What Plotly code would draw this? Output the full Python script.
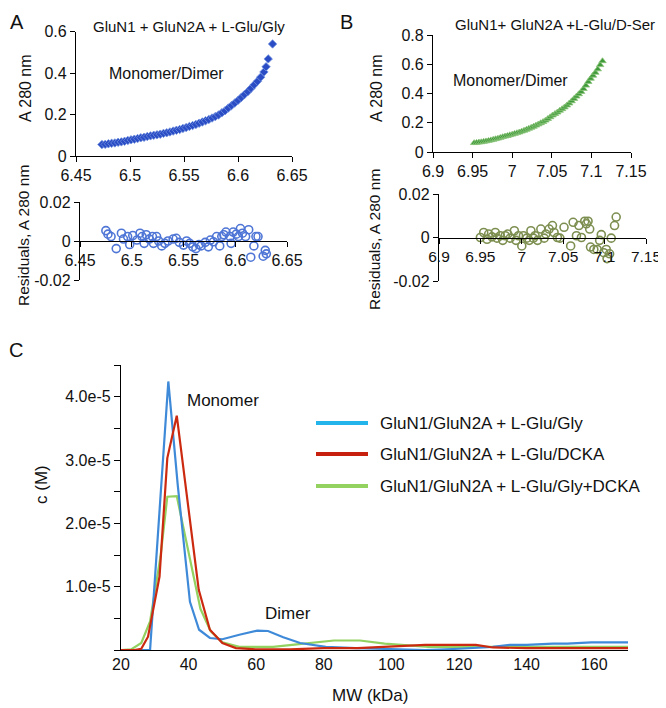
import plotly.graph_objects as go

# The page body adds an 8px margin, so the figure is sized to the remaining
# viewport and all reference pixel positions are offset by it.
PAGE_W, PAGE_H = 666, 708
OFF = 8
W, H = PAGE_W - OFF, PAGE_H - OFF
FONT = "Liberation Sans, Arial, sans-serif"

# ---------------- Panel A data ----------------
radius_A = [6.474, 6.477, 6.480, 6.483, 6.486, 6.489, 6.492, 6.495, 6.498, 6.501,
            6.504, 6.507, 6.510, 6.513, 6.516, 6.519, 6.522, 6.525, 6.528, 6.531,
            6.534, 6.537, 6.540, 6.543, 6.546, 6.549, 6.552, 6.555, 6.558, 6.561,
            6.564, 6.567, 6.570, 6.573, 6.576, 6.579, 6.582, 6.585, 6.588, 6.591,
            6.594, 6.597, 6.600, 6.603, 6.606, 6.609, 6.612, 6.615, 6.618, 6.621,
            6.624, 6.626, 6.628, 6.632]
abs_A = [0.055, 0.056, 0.059, 0.061, 0.063, 0.066, 0.068, 0.071, 0.075, 0.078,
         0.081, 0.084, 0.088, 0.090, 0.094, 0.097, 0.100, 0.102, 0.105, 0.109,
         0.112, 0.116, 0.120, 0.124, 0.128, 0.133, 0.137, 0.142, 0.147, 0.152,
         0.158, 0.164, 0.170, 0.176, 0.183, 0.190, 0.198, 0.208, 0.218, 0.231,
         0.243, 0.255, 0.268, 0.282, 0.296, 0.310, 0.326, 0.343, 0.360, 0.380,
         0.405, 0.430, 0.468, 0.540]

res_x_A = [6.475, 6.477, 6.480, 6.485, 6.490, 6.492, 6.496, 6.498, 6.501, 6.505,
           6.508, 6.510, 6.512, 6.514, 6.517, 6.520, 6.521, 6.524, 6.526, 6.529,
           6.532, 6.535, 6.540, 6.543, 6.546, 6.550, 6.553, 6.556, 6.559, 6.562,
           6.565, 6.567, 6.571, 6.574, 6.576, 6.579, 6.582, 6.585, 6.587, 6.589,
           6.591, 6.595, 6.596, 6.598, 6.601, 6.603, 6.605, 6.607, 6.610, 6.613,
           6.615, 6.618, 6.620, 6.622, 6.627, 6.629, 6.630]
res_y_A = [0.0053, 0.0035, 0.0023, -0.0039, 0.0040, 0.0010, 0.0023, -0.0018, 0.0028, 0.0005,
           0.0040, 0.0023, -0.0012, 0.0032, 0.0010, 0.0023, -0.0012, 0.0023, 0.0000, -0.0025,
           -0.0012, 0.0000, 0.0010, 0.0014, -0.0007, -0.0021, 0.0000, -0.0012, -0.0030, -0.0039,
           -0.0018, -0.0025, -0.0007, -0.0030, 0.0005, -0.0004, 0.0023, -0.0025, 0.0023, 0.0032,
           0.0046, 0.0023, -0.0012, 0.0046, 0.0035, 0.0023, 0.0064, 0.0040, 0.0023, 0.0058,
           -0.0083, -0.0025, 0.0023, 0.0023, -0.0078, -0.0048, -0.0066]

# ---------------- Panel B data ----------------
radius_B = [6.952, 6.955, 6.958, 6.961, 6.964, 6.967, 6.970, 6.973, 6.976, 6.979,
            6.982, 6.985, 6.988, 6.991, 6.994, 6.997, 7.000, 7.003, 7.006, 7.009,
            7.012, 7.015, 7.018, 7.021, 7.024, 7.027, 7.030, 7.033, 7.036, 7.039,
            7.042, 7.045, 7.048, 7.051, 7.054, 7.057, 7.060, 7.063, 7.066, 7.069,
            7.072, 7.075, 7.078, 7.081, 7.084, 7.087, 7.090, 7.093, 7.096, 7.099,
            7.102, 7.105, 7.108, 7.111, 7.114]
abs_B = [0.062, 0.064, 0.066, 0.068, 0.071, 0.074, 0.077, 0.081, 0.085, 0.089,
         0.093, 0.098, 0.103, 0.107, 0.111, 0.116, 0.120, 0.125, 0.130, 0.135,
         0.141, 0.147, 0.153, 0.160, 0.167, 0.174, 0.182, 0.190, 0.198, 0.206,
         0.216, 0.227, 0.239, 0.251, 0.261, 0.271, 0.283, 0.294, 0.306, 0.319,
         0.333, 0.348, 0.364, 0.380, 0.396, 0.412, 0.432, 0.455, 0.480, 0.502,
         0.523, 0.543, 0.566, 0.595, 0.622]

res_x_B = [6.950, 6.954, 6.958, 6.960, 6.964, 6.968, 6.970, 6.974, 6.977, 6.980,
           6.983, 6.986, 6.991, 6.993, 6.996, 7.000, 7.002, 7.006, 7.009, 7.011,
           7.014, 7.016, 7.019, 7.023, 7.027, 7.029, 7.033, 7.037, 7.039, 7.043,
           7.046, 7.051, 7.059, 7.062, 7.066, 7.069, 7.072, 7.076, 7.078, 7.080,
           7.082, 7.083, 7.087, 7.091, 7.094, 7.096, 7.099, 7.102, 7.103, 7.106,
           7.108, 7.112, 7.114]
res_y_B = [0.0000, 0.0023, -0.0008, 0.0016, 0.0003, 0.0023, -0.0003, 0.0008, -0.0013, 0.0008,
           0.0016, -0.0003, 0.0031, -0.0013, 0.0008, -0.0039, 0.0008, -0.0003, -0.0013, 0.0031,
           -0.0003, 0.0008, -0.0013, 0.0039, -0.0003, 0.0016, 0.0039, 0.0055, 0.0023, 0.0000,
           -0.0003, 0.0047, -0.0039, 0.0070, 0.0008, 0.0055, 0.0000, 0.0075, 0.0063, 0.0075,
           0.0039, -0.0044, -0.0055, -0.0055, -0.0013, 0.0013, -0.0070, -0.0055, -0.0097, -0.0075,
           -0.0003, 0.0055, 0.0094]

# ---------------- Panel C data ----------------
series_names = ["GluN1/GluN2A + L-Glu/Gly", "GluN1/GluN2A + L-Glu/DCKA",
                "GluN1/GluN2A + L-Glu/Gly+DCKA"]
mw_gly = [20, 24, 26, 28.6, 34.0, 36.8, 40.4, 43.1, 46.3, 50.0, 55, 60.3, 63.5, 68, 73,
          80.6, 89.4, 100, 110, 120, 130, 135, 140, 147.8, 152, 159.2, 170]
c_gly = [0, 0, 0, 0, 4.24e-5, 2.6e-5, 0.76e-5, 0.32e-5, 0.19e-5, 0.17e-5, 0.24e-5,
         0.305e-5, 0.30e-5, 0.2e-5, 0.11e-5, 0.05e-5, 0.03e-5, 0.01e-5, 0.0, 0.02e-5,
         0.05e-5, 0.08e-5, 0.08e-5, 0.10e-5, 0.10e-5, 0.12e-5, 0.12e-5]
mw_dcka = [20, 24, 26, 28, 31.4, 33.7, 36.5, 43.0, 46.3, 50.0, 54, 60, 70, 80, 90, 100,
           110, 125, 130, 140, 170]
c_dcka = [0, 0, 0.02e-5, 0.21e-5, 1.16e-5, 3.03e-5, 3.70e-5, 0.95e-5, 0.32e-5, 0.11e-5,
          0.03e-5, 0.01e-5, 0.01e-5, 0.03e-5, 0.03e-5, 0.06e-5, 0.08e-5, 0.08e-5, 0.04e-5,
          0.03e-5, 0.03e-5]
mw_both = [20, 23, 26, 28.6, 31.7, 33.7, 36.5, 40, 43.5, 46.5, 50, 55, 65, 72, 83, 90.7,
           98, 111, 130, 170]
c_both = [0, 0.01e-5, 0.11e-5, 0.45e-5, 1.48e-5, 2.42e-5, 2.43e-5, 1.55e-5, 0.65e-5,
          0.30e-5, 0.12e-5, 0.05e-5, 0.05e-5, 0.09e-5, 0.15e-5, 0.15e-5, 0.10e-5, 0.05e-5,
          0.05e-5, 0.05e-5]

# tick labels
ticks_A_x = [6.45, 6.5, 6.55, 6.6, 6.65]
ticks_A_x_text = ["6.45", "6.5", "6.55", "6.6", "6.65"]
ticks_A_y = [0, 0.2, 0.4, 0.6]
ticks_A_y_text = ["0", "0.2", "0.4", "0.6"]
ticks_B_x = [6.9, 6.95, 7.0, 7.05, 7.1, 7.15]
ticks_B_x_text = ["6.9", "6.95", "7", "7.05", "7.1", "7.15"]
ticks_B_y = [0, 0.2, 0.4, 0.6, 0.8]
ticks_B_y_text = ["0", "0.2", "0.4", "0.6", "0.8"]
ticks_res = [-0.02, 0, 0.02]
ticks_res_text = ["-0.02", "0", "0.02"]
ticks_C_x = [20, 40, 60, 80, 100, 120, 140, 160]
ticks_C_x_text = ["20", "40", "60", "80", "100", "120", "140", "160"]
ticks_C_y = [0, 0.5e-5, 1.0e-5, 1.5e-5, 2.0e-5, 2.5e-5, 3.0e-5, 3.5e-5, 4.0e-5, 4.5e-5]
ticks_C_y_text = ["", "", "1.0e-5", "", "2.0e-5", "", "3.0e-5", "", "4.0e-5", ""]

col_line = ["#3f8ad8", "#cc2a10", "#93d160"]
col_legend = ["#22b4ea", "#c8200e", "#93d160"]


def px(x):
    return (x - OFF) / W


def py(y):
    return 1 - (y - OFF) / H


fig = go.Figure()

fig.add_trace(go.Scatter(x=radius_A, y=abs_A, mode="markers", xaxis="x", yaxis="y",
                         marker=dict(symbol="diamond", size=6.5, color="#2a4cc4",
                                     line=dict(width=0.8, color="#7393e0")),
                         showlegend=False))
fig.add_trace(go.Scatter(x=res_x_A, y=res_y_A, mode="markers", xaxis="x2", yaxis="y2",
                         marker=dict(symbol="circle-open", size=8, color="#4f76d6",
                                     line=dict(width=1.6)),
                         showlegend=False))
fig.add_trace(go.Scatter(x=radius_B, y=abs_B, mode="markers", xaxis="x3", yaxis="y3",
                         marker=dict(symbol="triangle-up", size=6.5, color="#3f9a3a",
                                     line=dict(width=0.8, color="#8cc47a")),
                         showlegend=False))
fig.add_trace(go.Scatter(x=res_x_B, y=res_y_B, mode="markers", xaxis="x4", yaxis="y4",
                         marker=dict(symbol="circle-open", size=8, color="#7d8f50",
                                     line=dict(width=1.6)),
                         showlegend=False))

for mw, c, col, name in [(mw_both, c_both, col_line[2], series_names[2]),
                         (mw_gly, c_gly, col_line[0], series_names[0]),
                         (mw_dcka, c_dcka, col_line[1], series_names[1])]:
    fig.add_trace(go.Scatter(x=mw, y=c, mode="lines", xaxis="x5", yaxis="y5", name=name,
                             line=dict(color=col, width=2.2), showlegend=False))

axis_common = dict(showline=True, linecolor="black", linewidth=1.3, showgrid=False,
                   zeroline=False, ticks="outside", ticklen=5, tickcolor="black",
                   tickwidth=1.3, tickfont=dict(family=FONT, size=16, color="#111"),
                   tickmode="array", automargin=False)

layout = dict(
    width=W, height=H, margin=dict(l=0, r=0, t=0, b=0, pad=0, autoexpand=False),
    paper_bgcolor="white", plot_bgcolor="white", showlegend=False,
    font=dict(family=FONT, color="#111"),
    xaxis=dict(axis_common, domain=[px(76), px(292)], range=[6.45, 6.65], anchor="y",
               tickvals=ticks_A_x, ticktext=ticks_A_x_text),
    yaxis=dict(axis_common, domain=[py(156), py(31.5)], range=[0, 0.6], anchor="x",
               tickvals=ticks_A_y, ticktext=ticks_A_y_text),
    xaxis2=dict(axis_common, domain=[px(80), px(287)], range=[6.45, 6.65], anchor="free",
                position=py(241), tickvals=ticks_A_x, ticktext=ticks_A_x_text),
    yaxis2=dict(axis_common, domain=[py(280), py(202)], range=[-0.02, 0.02], anchor="x2",
                tickvals=ticks_res, ticktext=ticks_res_text),
    xaxis3=dict(axis_common, domain=[px(433), px(631)], range=[6.9, 7.15], anchor="y3",
                tickvals=ticks_B_x, ticktext=ticks_B_x_text),
    yaxis3=dict(axis_common, domain=[py(152), py(35)], range=[0, 0.8], anchor="x3",
                tickvals=ticks_B_y, ticktext=ticks_B_y_text),
    xaxis4=dict(axis_common, domain=[px(439), px(646)], range=[6.9, 7.15], anchor="free",
                position=py(237.5), tickvals=ticks_B_x, ticktext=ticks_B_x_text,
                tickfont=dict(family=FONT, size=15.5, color="#111")),
    yaxis4=dict(axis_common, domain=[py(281), py(194)], range=[-0.02, 0.02], anchor="x4",
                tickvals=ticks_res, ticktext=ticks_res_text),
    xaxis5=dict(axis_common, domain=[px(121), px(628)], range=[20, 170], anchor="y5",
                ticks="", tickvals=ticks_C_x, ticktext=ticks_C_x_text),
    yaxis5=dict(axis_common, domain=[py(650), py(365)], range=[0, 4.5e-5], anchor="x5",
                tickvals=ticks_C_y, ticktext=ticks_C_y_text, ticklen=6),
)
fig.update_layout(**layout)


def note(text, x, y, size=16, angle=0, xanchor="center", color="#111"):
    fig.add_annotation(text=text, x=px(x), y=py(y), xref="paper", yref="paper",
                       showarrow=False, xanchor=xanchor, yanchor="middle", textangle=angle,
                       font=dict(family=FONT, size=size, color=color))


note("A", 17, 22, size=20)
note("B", 346, 22, size=20)
note("C", 16, 350, size=20)
note("GluN1 + GluN2A + L-Glu/Gly", 189, 27, size=15)
note("GluN1+ GluN2A +L-Glu/D-Ser", 555, 25, size=15)
note("Monomer/Dimer", 166, 73, size=16)
note("Monomer/Dimer", 511, 80, size=16)
note("A 280 nm", 25, 88, size=16, angle=-90)
note("A 280 nm", 376, 88, size=16, angle=-90)
note("Residuals, A 280 nm", 23, 236, size=15.5, angle=-90)
note("Residuals, A 280 nm", 375, 240, size=15.5, angle=-90)
note("Monomer", 223, 400, size=17)
note("Dimer", 288, 613, size=17)
note("c (M)", 42, 485, size=17, angle=-90)
note("MW (kDa)", 370, 695, size=17)

legend_y = [423, 454, 486]
for name, col, yy in zip(series_names, col_legend, legend_y):
    fig.add_shape(type="line", xref="paper", yref="paper", x0=px(316), x1=px(368),
                  y0=py(yy), y1=py(yy), line=dict(color=col, width=4))
    note(name, 378, yy, size=17, xanchor="left")

fig.write_html("out.html")
